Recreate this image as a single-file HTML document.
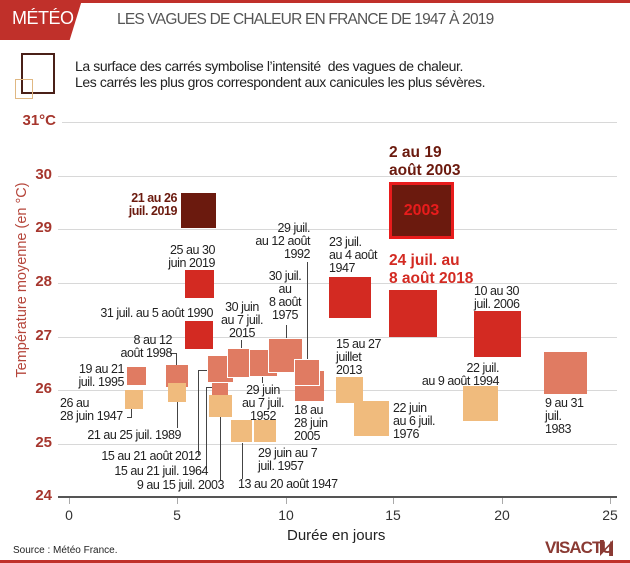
<!DOCTYPE html>
<html><head><meta charset="utf-8"><style>
body{margin:0;background:#fff}
#c{position:relative;width:630px;height:563px;overflow:hidden;background:#fff;font-family:"Liberation Sans",sans-serif;color:#222}
.a{position:absolute}
.l{position:absolute;font-size:12.5px;line-height:13px;white-space:nowrap;letter-spacing:-0.45px;color:#222}
.r{text-align:right}
.ce{text-align:center}
.s{position:absolute}
.g{position:absolute;left:58px;width:559px;height:1px;background:#d8d8d8}
.yt{position:absolute;left:20px;width:32px;text-align:right;font-size:15px;font-weight:bold;color:#a6362d}
.xt{position:absolute;top:507px;width:30px;text-align:center;font-size:14px;color:#333}
.v{position:absolute;width:1px;background:#444}
.h{position:absolute;height:1px;background:#444}
.R{background:#d32a22}.D{background:#6b1a0e}.S{background:#e07b62}.T{background:#f0bb7d}
</style></head><body><div id="c">
<div class="a" style="left:0;top:0;width:630px;height:3px;background:#c0302a"></div>
<div class="a" style="left:0;top:0;width:82px;height:40px;background:#c0302a;clip-path:polygon(0 0,100% 0,85% 100%,0 100%)"></div>
<div class="a" style="left:12px;top:8px;font-size:18px;color:#fff;letter-spacing:-0.5px">MÉTÉO</div>
<div class="a" style="left:117px;top:11px;font-size:15.5px;color:#555;letter-spacing:-0.8px">LES VAGUES DE CHALEUR EN FRANCE DE 1947 À 2019</div>
<div class="a" style="left:21px;top:53px;width:30px;height:37px;border:2px solid #4a2018"></div>
<div class="a" style="left:15px;top:79px;width:16px;height:18px;border:1.5px solid #e0b883"></div>
<div class="a" style="left:75px;top:58px;font-size:14px;line-height:16px;color:#222;letter-spacing:-0.4px">La surface des carrés symbolise l’intensité &nbsp;des vagues de chaleur.<br>Les carrés les plus gros correspondent aux canicules les plus sévères.</div>

<div class="g" style="top:122px;left:62px;width:555px"></div>
<div class="g" style="top:176px"></div><div class="g" style="top:229px"></div>
<div class="g" style="top:283px"></div><div class="g" style="top:337px"></div>
<div class="g" style="top:390px"></div><div class="g" style="top:444px"></div>
<div class="a" style="left:58px;top:496px;width:559px;height:2px;background:#555"></div>
<div class="yt" style="top:112px;left:10px;width:46px">31°C</div>
<div class="yt" style="top:166px">30</div><div class="yt" style="top:219px">29</div>
<div class="yt" style="top:273px">28</div><div class="yt" style="top:327px">27</div>
<div class="yt" style="top:380px">26</div><div class="yt" style="top:434px">25</div>
<div class="yt" style="top:487px">24</div>
<div class="a" style="left:22px;top:280px;transform:translate(-50%,-50%) rotate(-90deg);font-size:14.5px;color:#b5453a;white-space:nowrap">Température moyenne (en °C)</div>
<div class="v" style="left:69px;top:498px;height:6px;background:#aaa"></div><div class="v" style="left:177px;top:498px;height:6px;background:#aaa"></div>
<div class="v" style="left:286px;top:498px;height:6px;background:#aaa"></div><div class="v" style="left:393px;top:498px;height:6px;background:#aaa"></div>
<div class="v" style="left:502px;top:498px;height:6px;background:#aaa"></div><div class="v" style="left:610px;top:498px;height:6px;background:#aaa"></div>
<div class="xt" style="left:54px">0</div><div class="xt" style="left:162px">5</div><div class="xt" style="left:271px">10</div>
<div class="xt" style="left:378px">15</div><div class="xt" style="left:487px">20</div><div class="xt" style="left:595px">25</div>
<div class="a" style="left:287px;top:527px;font-size:15px;color:#222">Durée en jours</div>
<div class="a" style="left:13px;top:545px;font-size:10px;color:#222">Source : Météo France.</div>
<div class="a" style="left:545px;top:538px;font-size:17px;font-weight:bold;color:#8a3a33;letter-spacing:-1px">VISACTU</div>
<div class="a" style="left:600px;top:540px;width:13px;height:16px;background:#8a3a33;clip-path:polygon(0 0,30% 0,30% 60%,100% 0,100% 100%,70% 100%,70% 40%,0 100%)"></div>
<div class="a" style="left:0;top:560px;width:630px;height:3px;background:#c0302a"></div>

<div class="h" style="left:170px;top:353px;width:6px"></div><div class="v" style="left:176px;top:353px;height:12px"></div>
<div class="v" style="left:177px;top:402px;height:26px"></div>
<div class="v" style="left:131px;top:409px;height:8px"></div><div class="h" style="left:127px;top:417px;width:5px"></div>
<div class="v" style="left:198px;top:370px;height:85px"></div><div class="h" style="left:198px;top:370px;width:10px"></div>
<div class="v" style="left:206px;top:387px;height:83px"></div><div class="h" style="left:206px;top:387px;width:6px"></div>
<div class="v" style="left:220px;top:417px;height:64px"></div>
<div class="v" style="left:241px;top:340px;height:9px"></div>
<div class="v" style="left:262px;top:376px;height:7px"></div>
<div class="v" style="left:286px;top:325px;height:14px"></div>
<div class="v" style="left:242px;top:442px;height:37px"></div>
<div class="v" style="left:307px;top:262px;height:98px"></div>

<div class="s D" style="left:181px;top:193px;width:35px;height:35px"></div>
<div class="s D" style="left:389px;top:182px;width:59px;height:51px;border:3px solid #e81c1c;color:#e81c1c;font-weight:bold;font-size:16px;text-align:center;line-height:51px">2003</div>
<div class="s R" style="left:185px;top:270px;width:29px;height:28px"></div>
<div class="s R" style="left:185px;top:321px;width:28px;height:28px"></div>
<div class="s R" style="left:329px;top:277px;width:42px;height:41px"></div>
<div class="s R" style="left:389px;top:290px;width:48px;height:47px"></div>
<div class="s R" style="left:474px;top:311px;width:47px;height:46px"></div>
<div class="s S" style="left:544px;top:352px;width:43px;height:42px"></div>
<div class="s T" style="left:463px;top:386px;width:35px;height:35px"></div>
<div class="s T" style="left:336px;top:377px;width:27px;height:26px"></div>
<div class="s T" style="left:354px;top:401px;width:35px;height:35px"></div>
<div class="s S" style="left:127px;top:367px;width:19px;height:18px"></div>
<div class="s T" style="left:125px;top:390px;width:18px;height:19px"></div>
<div class="s S" style="left:166px;top:365px;width:22px;height:22px"></div>
<div class="s T" style="left:168px;top:383px;width:18px;height:19px"></div>
<div class="s S" style="left:212px;top:382px;width:16px;height:15px"></div>
<div class="s T" style="left:209px;top:395px;width:23px;height:22px"></div>
<div class="s S" style="left:208px;top:356px;width:25px;height:26px;outline:1px solid #fff"></div>
<div class="s S" style="left:228px;top:349px;width:28px;height:28px;outline:1px solid #fff"></div>
<div class="s S" style="left:250px;top:350px;width:27px;height:26px;outline:1px solid #fff"></div>
<div class="s S" style="left:269px;top:339px;width:33px;height:33px;outline:1px solid #fff"></div>
<div class="s T" style="left:231px;top:420px;width:21px;height:22px;outline:1px solid #fff"></div>
<div class="s T" style="left:254px;top:420px;width:22px;height:22px;outline:1px solid #fff"></div>
<div class="s S" style="left:295px;top:371px;width:29px;height:30px"></div>
<div class="s S" style="left:295px;top:360px;width:24px;height:25px;outline:1px solid #fff"></div>

<div class="l r" style="left:90px;width:87px;top:192px;font-weight:bold;color:#6b1a0e">21 au 26<br>juil. 2019</div>
<div class="a" style="left:389px;top:144px;font-size:15.5px;line-height:18px;font-weight:bold;color:#6b1a0e">2 au 19<br>août 2003</div>
<div class="a" style="left:389px;top:252px;font-size:15.5px;line-height:18px;font-weight:bold;color:#d32a22">24 juil. au<br>8 août 2018</div>
<div class="l r" style="left:130px;width:85px;top:244px">25 au 30<br>juin 2019</div>
<div class="l r" style="left:50px;width:163px;top:307px">31 juil. au 5 août 1990</div>
<div class="l r" style="left:230px;width:80px;top:222px">29 juil.<br>au 12 août<br>1992</div>
<div class="l ce" style="left:250px;width:70px;top:270px">30 juil.<br>au<br>8 août<br>1975</div>
<div class="l ce" style="left:207px;width:70px;top:301px">30 juin<br>au 7 juil.<br>2015</div>
<div class="l" style="left:329px;top:236px">23 juil.<br>au 4 août<br>1947</div>
<div class="l r" style="left:90px;width:82px;top:334px">8 au 12<br>août 1998</div>
<div class="l r" style="left:50px;width:74px;top:363px">19 au 21<br>juil. 1995</div>
<div class="l" style="left:60px;top:397px">26 au<br>28 juin 1947</div>
<div class="l r" style="left:40px;width:141px;top:429px">21 au 25 juil. 1989</div>
<div class="l r" style="left:40px;width:161px;top:450px">15 au 21 août 2012</div>
<div class="l r" style="left:40px;width:168px;top:465px">15 au 21 juil. 1964</div>
<div class="l r" style="left:40px;width:184px;top:479px">9 au 15 juil. 2003</div>
<div class="l ce" style="left:228px;width:70px;top:384px">29 juin<br>au 7 juil.<br>1952</div>
<div class="l" style="left:294px;top:404px">18 au<br>28 juin<br>2005</div>
<div class="l" style="left:258px;top:447px">29 juin au 7<br>juil. 1957</div>
<div class="l" style="left:238px;top:478px">13 au 20 août 1947</div>
<div class="l" style="left:336px;top:338px">15 au 27<br>juillet<br>2013</div>
<div class="l" style="left:393px;top:402px">22 juin<br>au 6 juil.<br>1976</div>
<div class="l r" style="left:390px;width:109px;top:362px">22 juil.<br>au 9 août 1994</div>
<div class="l" style="left:474px;top:285px">10 au 30<br>juil. 2006</div>
<div class="l" style="left:545px;top:397px">9 au 31<br>juil.<br>1983</div>
</div></body></html>
